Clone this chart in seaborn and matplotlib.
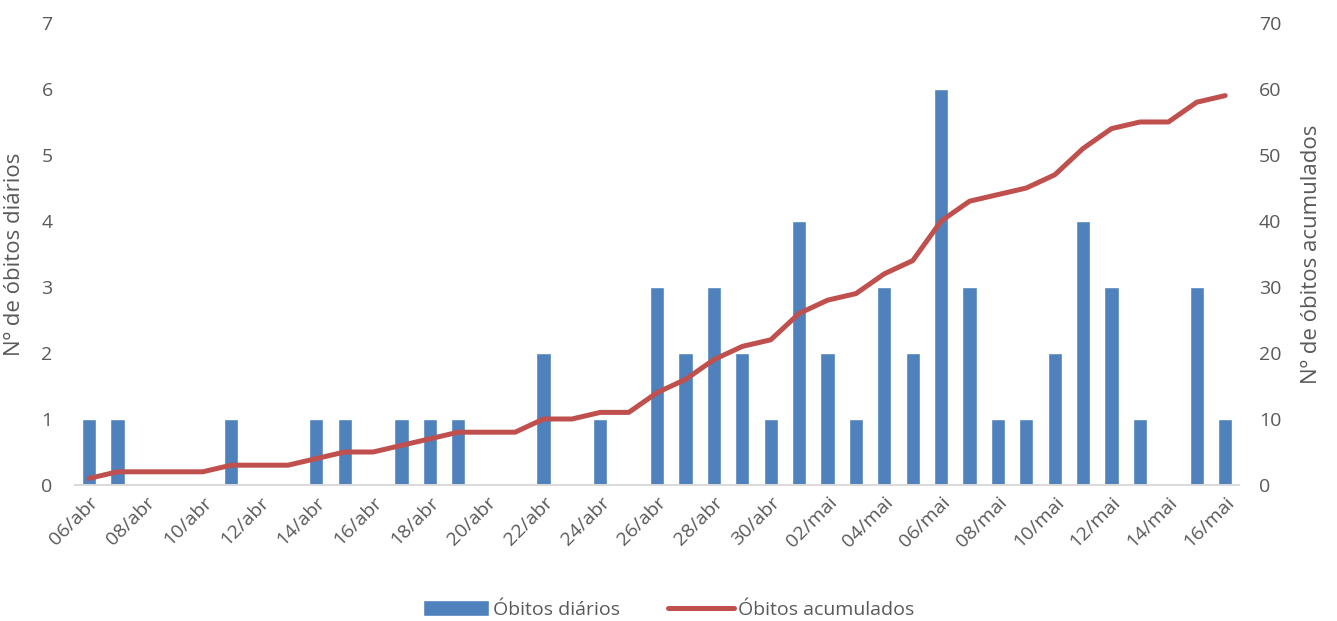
import numpy as np
import pandas as pd
import seaborn as sns
import matplotlib.pyplot as plt

sns.set_style("white")
plt.rcParams["font.family"] = ["Open Sans", "DejaVu Sans"]

datas = ["06/abr", "07/abr", "08/abr", "09/abr", "10/abr", "11/abr", "12/abr", "13/abr",
         "14/abr", "15/abr", "16/abr", "17/abr", "18/abr", "19/abr", "20/abr", "21/abr",
         "22/abr", "23/abr", "24/abr", "25/abr", "26/abr", "27/abr", "28/abr", "29/abr",
         "30/abr", "01/mai", "02/mai", "03/mai", "04/mai", "05/mai", "06/mai", "07/mai",
         "08/mai", "09/mai", "10/mai", "11/mai", "12/mai", "13/mai", "14/mai", "15/mai",
         "16/mai"]
obitos_diarios = [1, 1, 0, 0, 0, 1, 0, 0, 1, 1, 0, 1, 1, 1, 0, 0, 2, 0, 1, 0, 3,
                  2, 3, 2, 1, 4, 2, 1, 3, 2, 6, 3, 1, 1, 2, 4, 3, 1, 0, 3, 1]
obitos_acumulados = [1, 2, 2, 2, 2, 3, 3, 3, 4, 5, 5, 6, 7, 8, 8, 8, 10, 10, 11, 11, 14,
                     16, 19, 21, 22, 26, 28, 29, 32, 34, 40, 43, 44, 45, 47, 51, 54, 55, 55, 58, 59]

df = pd.DataFrame({"data": datas, "diarios": obitos_diarios,
                   "acumulados": obitos_acumulados, "pos": np.arange(len(datas))})

cinza = "#595959"
azul = "#4F81BD"
vermelho = "#C0504D"

fig = plt.figure(figsize=(13.37, 6.21), dpi=100)
ax = fig.add_axes([0.056, 0.219, 0.871, 0.744])

sns.barplot(data=df, x="data", y="diarios", order=datas, color=azul, width=0.5,
            saturation=1, ax=ax, label="Óbitos diários")
ax2 = ax.twinx()
sns.lineplot(data=df, x="pos", y="acumulados", color=vermelho, linewidth=3.6,
             ax=ax2, label="Óbitos acumulados", solid_capstyle="round")

ax.set_xlim(-0.5, len(datas) - 0.5)
ax.set_ylim(0, 7)
ax2.set_ylim(0, 70)
ax.set_yticks(range(0, 8))
ax2.set_yticks(range(0, 71, 10))

ax.set_xticks(range(0, len(datas), 2))
ax.set_xticklabels(datas[::2], rotation=45, ha="right", rotation_mode="anchor")

ax.set_xlabel("")
ax.set_ylabel("Nº de óbitos diários", fontsize=16, color=cinza, labelpad=12)
ax2.set_ylabel("Nº de óbitos acumulados", fontsize=16, color=cinza, labelpad=14)

for a in (ax, ax2):
    a.tick_params(axis="both", labelsize=14, colors=cinza, length=0)
    for s in ("left", "right", "top"):
        a.spines[s].set_visible(False)
    a.spines["bottom"].set_color("#D9D9D9")
    a.spines["bottom"].set_linewidth(1.2)
ax.tick_params(axis="x", pad=6)
ax.tick_params(axis="y", pad=16)
ax2.tick_params(axis="y", pad=14)

h1, l1 = ax.get_legend_handles_labels()
h2, l2 = ax2.get_legend_handles_labels()
if ax.get_legend():
    ax.get_legend().remove()
if ax2.get_legend():
    ax2.get_legend().remove()
fig.legend(h1 + h2, l1 + l2, loc="lower center", bbox_to_anchor=(0.5, -0.025), ncol=2,
           frameon=False, fontsize=14, labelcolor=cinza, handlelength=3.4,
           handleheight=0.9, columnspacing=2.5, handletextpad=0.2)

fig.savefig("out.png", dpi=100)
